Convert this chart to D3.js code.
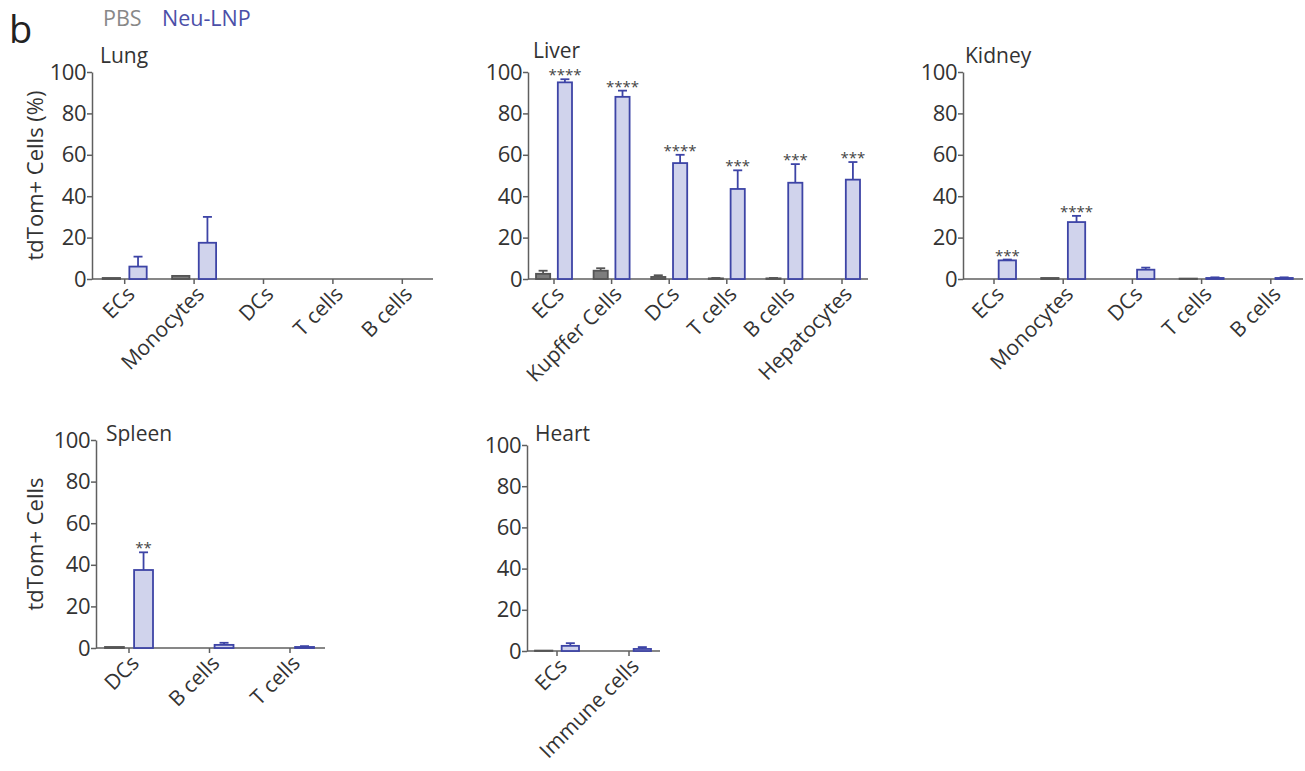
<!DOCTYPE html>
<html>
<head>
<meta charset="utf-8">
<script src="https://cdn.jsdelivr.net/npm/d3@7"></script>
<style>
  body { margin: 0; background: #fff; }
  svg { font-family: "Open Sans", Lato, sans-serif; }
</style>
</head>
<body>
<svg width="1305" height="771"></svg>
<script>
// values (mean, upward SD)
const lungCats = ['ECs', 'Monocytes', 'DCs', 'T cells', 'B cells']
const lungPBS = [0.5, 1.5, 0, 0, 0]
const lungPBSErr = [0, 0, 0, 0, 0]
const lungNeu = [6, 17.5, 0, 0, 0]
const lungNeuErr = [4.8, 12.5, 0, 0, 0]
const lungStars = ['', '', '', '', '']

const liverCats = ['ECs', 'Kupffer Cells', 'DCs', 'T cells', 'B cells', 'Hepatocytes']
const liverPBS = [2.5, 4, 1, 0.3, 0.3, 0]
const liverPBSErr = [1.5, 1.2, 0.8, 0.2, 0.2, 0]
const liverNeu = [95, 88, 56, 43.5, 46.5, 48]
const liverNeuErr = [1.5, 3, 4, 9, 9, 8.5]
const liverStars = ['****', '****', '****', '***', '***', '***']

const kidneyCats = ['ECs', 'Monocytes', 'DCs', 'T cells', 'B cells']
const kidneyPBS = [0, 0.5, 0, 0.2, 0]
const kidneyPBSErr = [0, 0, 0, 0, 0]
const kidneyNeu = [9, 27.5, 4.5, 0.5, 0.5]
const kidneyNeuErr = [0.4, 3, 1, 0.3, 0.3]
const kidneyStars = ['***', '****', '', '', '']

const spleenCats = ['DCs', 'B cells', 'T cells']
const spleenPBS = [0.5, 0, 0]
const spleenPBSErr = [0, 0, 0]
const spleenNeu = [37.5, 1.5, 0.5]
const spleenNeuErr = [8.5, 1, 0.4]
const spleenStars = ['**', '', '']

const heartCats = ['ECs', 'Immune cells']
const heartPBS = [0.2, 0]
const heartPBSErr = [0, 0]
const heartNeu = [2.5, 1]
const heartNeuErr = [1.3, 0.9]
const heartStars = ['', '']

const yTicks = [0, 20, 40, 60, 80, 100]
const groups = ['PBS', 'Neu-LNP']

const FONT = '"Open Sans", Lato, sans-serif'
const AXIS = '#5f5f5f'
const TEXT = '#333'
const PBS_FILL = '#7d7d7d', PBS_LINE = '#555'
const NEU_FILL = '#d0d3ec', NEU_LINE = '#3d44a6'

const panels = [
    { title: 'Lung', cats: lungCats, pbs: lungPBS, pbsErr: lungPBSErr, neu: lungNeu, neuErr: lungNeuErr, stars: lungStars,
      x0: 92, x1: 433, band: [90, 437], hw: 22, yTop: 72, yBot: 279, tx: 100, ty: 63, ylabel: 'tdTom+ Cells (%)' },
    { title: 'Liver', cats: liverCats, pbs: liverPBS, pbsErr: liverPBSErr, neu: liverNeu, neuErr: liverNeuErr, stars: liverStars,
      x0: 528, x1: 868, band: [525.2, 870.8], hw: 18, yTop: 72, yBot: 279, tx: 533, ty: 58 },
    { title: 'Kidney', cats: kidneyCats, pbs: kidneyPBS, pbsErr: kidneyPBSErr, neu: kidneyNeu, neuErr: kidneyNeuErr, stars: kidneyStars,
      x0: 963, x1: 1303, band: [959.4, 1305.4], hw: 22, yTop: 72, yBot: 279, tx: 965, ty: 63 },
    { title: 'Spleen', cats: spleenCats, pbs: spleenPBS, pbsErr: spleenPBSErr, neu: spleenNeu, neuErr: spleenNeuErr, stars: spleenStars,
      x0: 96, x1: 325, band: [88.75, 330.25], hw: 24, yTop: 440, yBot: 648, tx: 106, ty: 441, ylabel: 'tdTom+ Cells' },
    { title: 'Heart', cats: heartCats, pbs: heartPBS, pbsErr: heartPBSErr, neu: heartNeu, neuErr: heartNeuErr, stars: heartStars,
      x0: 527, x1: 660, band: [521, 665], hw: 22, yTop: 445, yBot: 651, tx: 535, ty: 441 }
]

const svg = d3.select('svg')

// panel letter + legend
svg.append('text').attr('x', 9).attr('y', 43).attr('font-size', 38).attr('fill', '#222').text('b')
svg.append('text').attr('x', 103).attr('y', 26).attr('font-size', 21.5).attr('fill', '#888').text('PBS')
svg.append('text').attr('x', 162).attr('y', 26).attr('font-size', 21.5).attr('fill', '#4b4fa8').text('Neu-LNP')

panels.forEach(p => drawPanel(p))

function drawPanel(p) {
    const g = svg.append('g')
    const x = d3.scaleBand().domain(p.cats).range(p.band)
    const xi = d3.scaleBand().domain(groups).range([-p.hw, p.hw]).paddingInner(0.35)
    const y = d3.scaleLinear().domain([0, 100]).range([p.yBot, p.yTop])

    // y axis
    const ya = g.append('g')
        .attr('transform', `translate(${p.x0},0)`)
        .call(d3.axisLeft(y).tickValues(yTicks).tickSize(5).tickSizeOuter(0).tickPadding(1))
    ya.select('.domain').attr('stroke', AXIS).attr('stroke-width', 1.5)
    ya.selectAll('.tick line').attr('stroke', AXIS).attr('stroke-width', 1.5)
    ya.selectAll('.tick text').attr('font-size', 22).attr('fill', TEXT).attr('font-family', FONT)
        .attr('letter-spacing', -0.5)

    // x axis
    const xa = g.append('g')
        .attr('transform', `translate(0,${p.yBot})`)
        .call(d3.axisBottom(x).tickSize(5).tickSizeOuter(0))
    xa.select('.domain').remove()
    g.append('line')
        .attr('x1', p.x0).attr('x2', p.x1)
        .attr('y1', p.yBot).attr('y2', p.yBot)
        .attr('stroke', AXIS).attr('stroke-width', 1.5)
    xa.selectAll('.tick line').attr('stroke', AXIS).attr('stroke-width', 1.5)
    xa.selectAll('.tick text')
        .attr('font-size', 21).attr('fill', TEXT).attr('font-family', FONT)
        .attr('text-anchor', 'end')
        .attr('transform', 'translate(1,6) rotate(-45)')
        .attr('dy', '0.7em').attr('y', 0).attr('x', 0)

    // title
    g.append('text').attr('x', p.tx).attr('y', p.ty)
        .attr('font-size', 21).attr('fill', TEXT).text(p.title)

    if (p.ylabel) {
        g.append('text')
            .attr('transform', `translate(43,${(p.yTop + p.yBot) / 2}) rotate(-90)`)
            .attr('text-anchor', 'middle')
            .attr('font-size', 22).attr('fill', TEXT).text(p.ylabel)
    }

    const rows = []
    p.cats.forEach((c, i) => {
        rows.push({ cat: c, grp: 'PBS', v: p.pbs[i], e: p.pbsErr[i], fill: PBS_FILL, line: PBS_LINE })
        rows.push({ cat: c, grp: 'Neu-LNP', v: p.neu[i], e: p.neuErr[i], fill: NEU_FILL, line: NEU_LINE })
    })
    const shown = rows.filter(d => d.v > 0)
    const bx = d => x(d.cat) + x.bandwidth() / 2 + xi(d.grp)
    const cx = d => bx(d) + xi.bandwidth() / 2

    // error bars (upward only)
    const eb = g.append('g').selectAll('g').data(shown.filter(d => d.e > 0)).join('g')
    eb.append('line')
        .attr('x1', cx).attr('x2', cx)
        .attr('y1', d => y(d.v)).attr('y2', d => y(d.v + d.e))
        .attr('stroke', d => d.line).attr('stroke-width', 1.8)
    eb.append('line')
        .attr('x1', d => cx(d) - 4.5).attr('x2', d => cx(d) + 4.5)
        .attr('y1', d => y(d.v + d.e)).attr('y2', d => y(d.v + d.e))
        .attr('stroke', d => d.line).attr('stroke-width', 1.8)

    g.append('g').selectAll('rect').data(shown).join('rect')
        .attr('x', bx)
        .attr('width', xi.bandwidth())
        .attr('y', d => y(d.v))
        .attr('height', d => y(0) - y(d.v))
        .attr('fill', d => d.fill)
        .attr('stroke', d => d.line)
        .attr('stroke-width', 1.8)

    // significance stars
    g.append('g').selectAll('text')
        .data(p.cats.map((c, i) => ({ cat: c, grp: 'Neu-LNP', v: p.neu[i], e: p.neuErr[i], s: p.stars[i] })).filter(d => d.s))
        .join('text')
        .attr('x', cx)
        .attr('y', d => y(d.v + d.e) + 1)
        .attr('text-anchor', 'middle')
        .attr('font-size', 15).attr('fill', '#444')
        .text(d => d.s)
}
</script>
</body>
</html>
